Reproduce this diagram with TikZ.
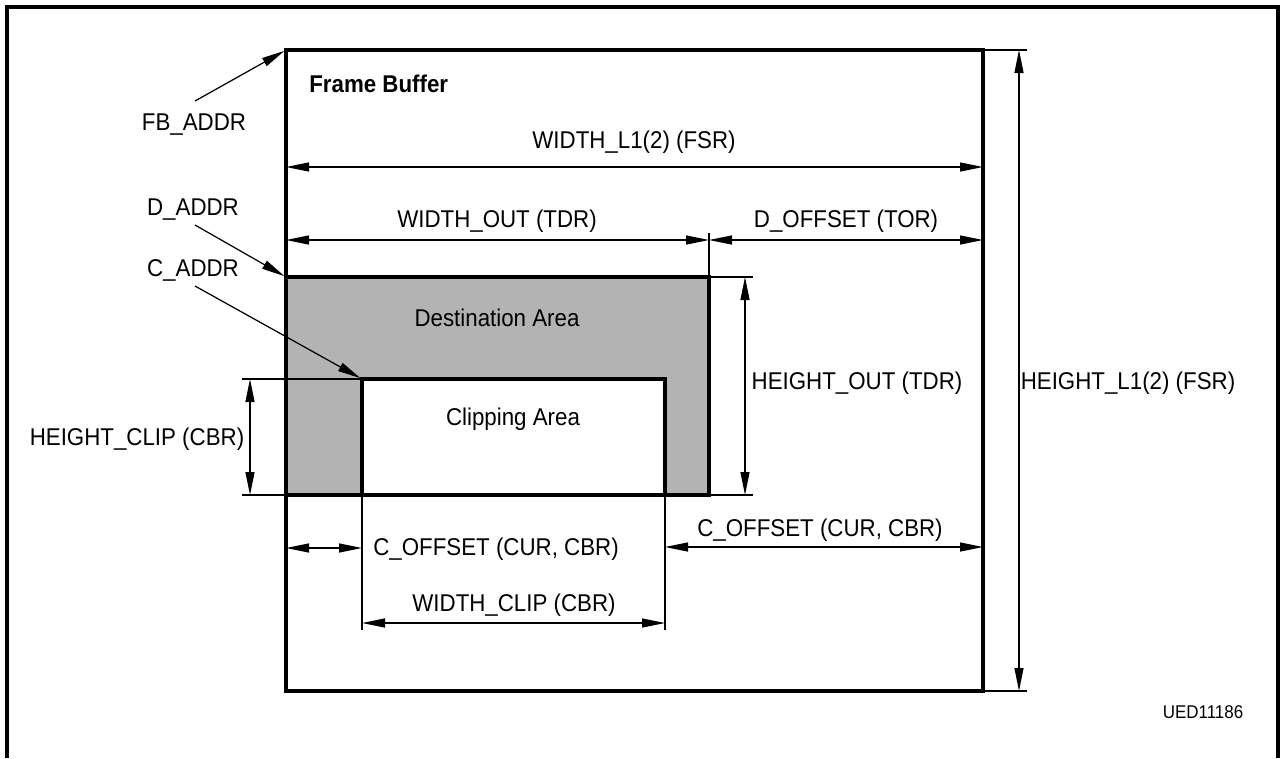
\documentclass[tikz,border=0pt]{standalone}
\usepackage{fontspec}
\setmainfont{Liberation Sans}[FakeStretch=0.92]
\usetikzlibrary{arrows.meta}
\definecolor{areagray}{RGB}{179,179,179}
\tikzset{
  thin line/.style={line width=0.7pt},
  dim/.style={thin line, {Triangle[length=4.6mm,width=1.8mm]}-{Triangle[length=4.6mm,width=1.8mm]}},
  ptr/.style={thin line, -{Triangle[length=4.6mm,width=1.8mm]}},
  area/.style={line width=2pt},
  lbl/.style={font=\fontsize{13.8}{15}\selectfont, inner sep=0pt, anchor=base},
}
\begin{document}
\begin{tikzpicture}[x=0.02cm,y=-0.02cm]
\useasboundingbox (0,0) rectangle (1280,758);
\draw[area] (7,758) -- (7,7) -- (1278,7) -- (1278,758);

\coordinate (fbnw) at (286,50);
\coordinate (fbse) at (983,691);
\coordinate (dnw) at (286,277);
\coordinate (dse) at (709,495);
\coordinate (cnw) at (362,379);
\coordinate (cse) at (665,495);

\draw[area] (fbnw) rectangle (fbse);
\draw[area, fill=areagray] (dnw) rectangle (dse);
\draw[area, fill=white] (cnw) rectangle (cse);

\node[lbl, anchor=base west, font=\fontsize{13.8}{15}\selectfont\bfseries] (fb) at (309,92) {Frame Buffer};
\node[lbl] (dest) at (497,326) {Destination Area};
\node[lbl] (clip) at (513,425) {Clipping Area};

\node[lbl] (fbaddr) at (194,130) {FB\_ADDR};
\node[lbl] (daddr) at (193,215) {D\_ADDR};
\node[lbl] (caddr) at (193,276) {C\_ADDR};
\coordinate (fbtail) at (195,101);
\coordinate (dtail) at (195,225);
\coordinate (ctail) at (195,286);
\draw[ptr, shorten >=1pt] (fbtail) -- (fbnw);
\draw[ptr, shorten >=1pt] (dtail) -- (dnw);
\draw[ptr, shorten >=1pt] (ctail) -- (cnw);

\coordinate (wla) at (286,167);
\coordinate (wlb) at (983,167);
\draw[dim] (wla) -- (wlb);
\node[lbl] (wl) at (634,148) {WIDTH\_L1(2) (FSR)};

\coordinate (woa) at (286,240);
\coordinate (wob) at (709,240);
\coordinate (doa) at (983,240);
\coordinate (tick) at (709,233);
\draw[dim] (woa) -- (wob);
\draw[dim] (wob) -- (doa);
\draw[thin line] (tick) -- (dse |- dnw);
\node[lbl] (wo) at (497,227) {WIDTH\_OUT (TDR)};
\node[lbl] (doff) at (846,227) {D\_OFFSET (TOR)};

\coordinate (hoa) at (753,277);
\coordinate (hob) at (753,495);
\draw[thin line] (dse |- dnw) -- (hoa);
\draw[thin line] (dse) -- (hob);
\draw[dim] (745,277) -- (745,495);
\node[lbl] (ho) at (857,389) {HEIGHT\_OUT (TDR)};

\coordinate (hla) at (1027,50);
\coordinate (hlb) at (1027,691);
\draw[thin line] (fbse |- fbnw) -- (hla);
\draw[thin line] (fbse) -- (hlb);
\draw[dim] (1019,50) -- (1019,691);
\node[lbl] (hl) at (1128,389) {HEIGHT\_L1(2) (FSR)};

\coordinate (hca) at (242,379);
\coordinate (hcb) at (242,495);
\draw[thin line] (hca) -- (cnw);
\draw[thin line] (hcb) -- (dnw |- dse);
\draw[dim] (250,379) -- (250,495);
\node[lbl] (hc) at (137,445) {HEIGHT\_CLIP (CBR)};

\coordinate (cla) at (362,630);
\coordinate (clb) at (665,630);
\draw[thin line] (cnw |- cse) -- (cla);
\draw[thin line] (cse) -- (clb);

\draw[dim] (286,548) -- (362,548);
\node[lbl, anchor=base west] (coffl) at (373,555) {C\_OFFSET (CUR, CBR)};
\draw[dim] (665,547) -- (983,547);
\node[lbl] (coffr) at (820,536) {C\_OFFSET (CUR, CBR)};

\draw[dim] (362,623) -- (665,623);
\node[lbl] (wc) at (514,611) {WIDTH\_CLIP (CBR)};

\node[lbl, font=\fontsize{10.5}{12}\selectfont] (ued) at (1203,718) {UED11186};
\end{tikzpicture}
\end{document}
